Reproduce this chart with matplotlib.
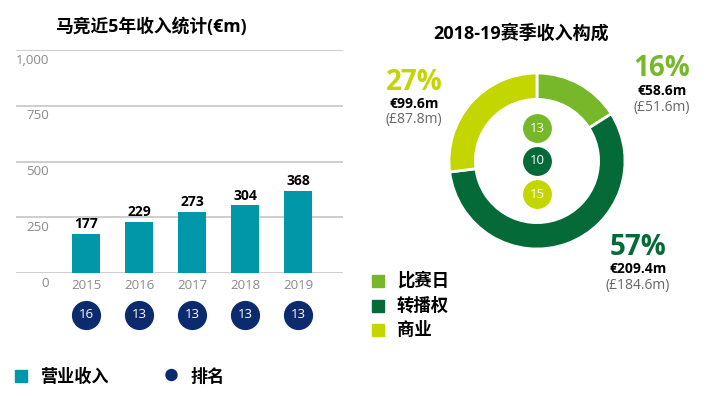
import matplotlib
matplotlib.use("Agg")
import matplotlib.pyplot as plt
import matplotlib.transforms as mtransforms

plt.rcParams['font.family'] = ['Open Sans', 'Noto Sans CJK SC', 'DejaVu Sans']

# Data
years = ['2015', '2016', '2017', '2018', '2019']
revenue = [177, 229, 273, 304, 368]
ranks = [16, 13, 13, 13, 13]
y_ticks = [0, 250, 500, 750, 1000]
y_tick_labels = ['0', '250', '500', '750', '1,000']

sources = ['比赛日', '转播权', '商业']
source_pct = [16, 57, 27]
source_eur = ['€58.6m', '€209.4m', '€99.6m']
source_gbp = ['(£51.6m)', '(£184.6m)', '(£87.8m)']
source_rank = [13, 10, 15]

TEAL = '#0097a9'
NAVY = '#0c2a6e'
GREEN = '#76b82a'
DARK = '#046a38'
LIME = '#c4d600'
GRAY = '#8a8a8a'
seg_colors = [GREEN, DARK, LIME]

W, H = 720, 397
fig = plt.figure(figsize=(W / 100, H / 100), dpi=100)


def fx(px):
    return px / W


def fy(py):
    return 1 - py / H


# ---------- left: revenue bars ----------
ax = fig.add_axes([fx(16), fy(273), fx(343) - fx(16), fy(50) - fy(273)])
x = list(range(len(years)))
ax.bar(x, revenue, width=0.53, color=TEAL, zorder=2)
ax.set_xlim(-1.32, 4.85)
ax.set_ylim(0, 1000)
ax.axis('off')
for t in y_ticks:
    ax.axhline(t, color='#c6c6c6', lw=1.2, zorder=1)
trans_y = mtransforms.blended_transform_factory(ax.transAxes, ax.transData)
for t, lab in zip(y_ticks, y_tick_labels):
    ax.text(0.1, t - 45, lab, transform=trans_y, ha='right', va='center',
            fontsize=9.5, color=GRAY)
for xi, v in zip(x, revenue):
    ax.text(xi, v + 12, str(v), ha='center', va='bottom', fontsize=10,
            fontweight='bold', color='black')
trans_x = mtransforms.blended_transform_factory(ax.transData, ax.transAxes)
for xi, yr, rk in zip(x, years, ranks):
    ax.text(xi, -0.054, yr, transform=trans_x, ha='center', va='center',
            fontsize=9.5, color=GRAY)
    ax.scatter([xi], [-0.188], s=400, color=NAVY, transform=trans_x,
               clip_on=False, zorder=3)
    ax.text(xi, -0.188, str(rk), transform=trans_x, ha='center', va='center',
            fontsize=9.5, color='white', zorder=4)

fig.text(fx(55), fy(27), '马竞近5年收入统计(€m)', ha='left', va='center',
         fontsize=12.8, fontweight='bold')

# left legend
fig.patches.append(plt.Rectangle((fx(15), fy(382)), fx(12), fy(370) - fy(382),
                                 color=TEAL, transform=fig.transFigure))
fig.text(fx(40), fy(377), '营业收入', ha='left', va='center', fontsize=12.3,
         fontweight='bold')
fig.patches.append(matplotlib.patches.Ellipse((fx(171.5), fy(375)), fx(11), 11 / H,
                                              color=NAVY, transform=fig.transFigure))
fig.text(fx(190), fy(377), '排名', ha='left', va='center', fontsize=12.3,
         fontweight='bold')

# ---------- right: donut ----------
cx, cy, r = 537, 161, 88
pax = fig.add_axes([fx(cx - 100), fy(cy + 100), fx(200), 200 / H])
pax.pie(source_pct, colors=seg_colors, startangle=90, counterclock=False,
        radius=1, wedgeprops=dict(width=0.3, edgecolor='white', linewidth=2))
lim = 100 / r
pax.set_xlim(-lim, lim)
pax.set_ylim(-lim, lim)
pax.set_aspect('equal')
pax.axis('off')
for i, (rk, c) in enumerate(zip(source_rank, seg_colors)):
    yy = 0.375 * (1 - i)
    pax.scatter([0], [yy], s=390, color=c, zorder=3)
    pax.text(0, yy, str(rk), ha='center', va='center', fontsize=9.5,
             color='white', zorder=4)

fig.text(fx(521), fy(33), '2018-19赛季收入构成', ha='center', va='center',
         fontsize=13, fontweight='bold')

label_pos = [(662, 69), (638, 247), (414, 82)]
for (lx, ly), pct, eur, gbp, c in zip(label_pos, source_pct, source_eur,
                                      source_gbp, seg_colors):
    fig.text(fx(lx), fy(ly), f'{pct}%', ha='center', va='center', fontsize=20,
             fontweight='bold', color=c)
    fig.text(fx(lx), fy(ly + 22), eur, ha='center', va='center', fontsize=10,
             fontweight='bold', color='black')
    fig.text(fx(lx), fy(ly + 38), gbp, ha='center', va='center', fontsize=10,
             color='#666666')

# right legend
for i, (name, c) in enumerate(zip(sources, seg_colors)):
    yy = 281 + i * 24.5
    fig.patches.append(plt.Rectangle((fx(372), fy(yy + 6)), fx(12), 12 / H,
                                     color=c, transform=fig.transFigure))
    fig.text(fx(397), fy(yy), name, ha='left', va='center', fontsize=12.5,
             fontweight='bold')

fig.savefig('out.png', dpi=100)
